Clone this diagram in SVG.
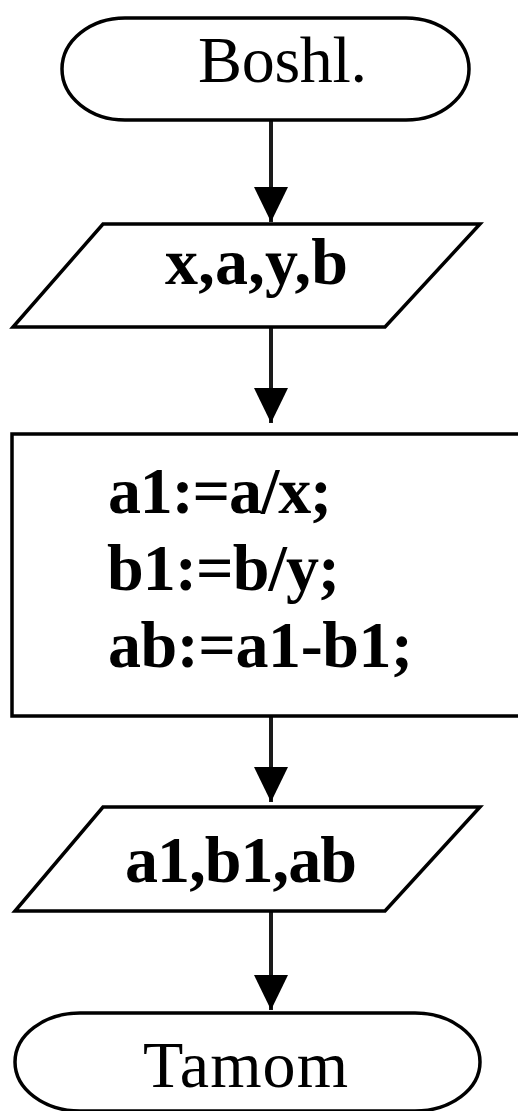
<svg xmlns="http://www.w3.org/2000/svg" width="518" height="1111" viewBox="0 0 518 1111">
<defs>
<style>
.shape{fill:#fff;stroke:#000;stroke-width:3.5}
.conn{stroke:#1a1a1a;stroke-width:4;fill:none}
.t{font-family:"Liberation Serif","Times New Roman",serif;font-size:66px;fill:#000}
.b{font-weight:bold}
</style>
<marker id="ah" markerUnits="userSpaceOnUse" markerWidth="40" markerHeight="40" refX="35" refY="0" orient="auto" viewBox="0 -20 40 40" overflow="visible">
<path d="M0,-17 L35,0 L0,17 Z" fill="#000"/>
</marker>
</defs>
<rect width="518" height="1111" fill="#fff"/>
<g id="connectors">
<line class="conn" x1="271" y1="120" x2="271" y2="222" marker-end="url(#ah)"/>
<line class="conn" x1="271" y1="327" x2="271" y2="423" marker-end="url(#ah)"/>
<line class="conn" x1="271" y1="716" x2="271" y2="802" marker-end="url(#ah)"/>
<line class="conn" x1="271" y1="911" x2="271" y2="1010" marker-end="url(#ah)"/>
</g>
<g id="start">
<rect class="shape" x="62" y="18" width="407" height="102" rx="63" ry="51"/>
<text class="t" x="198" y="82" textLength="169" lengthAdjust="spacing">Boshl.</text>
</g>
<g id="input">
<polygon class="shape" points="103,224 480,224 385,327 13,327"/>
<text class="t b" x="165" y="284" textLength="183" lengthAdjust="spacing">x,a,y,b</text>
</g>
<g id="process">
<rect class="shape" x="12" y="434" width="530" height="282"/>
<text class="t b" x="108" y="513" textLength="224" lengthAdjust="spacing">a1:=a/x;</text>
<text class="t b" x="107" y="590" textLength="233" lengthAdjust="spacing">b1:=b/y;</text>
<text class="t b" x="108" y="667" textLength="305" lengthAdjust="spacing">ab:=a1-b1;</text>
</g>
<g id="output">
<polygon class="shape" points="103,807 480,807 385,911 15,911"/>
<text class="t b" x="125" y="882" textLength="232" lengthAdjust="spacing">a1,b1,ab</text>
</g>
<g id="end">
<rect class="shape" x="15" y="1013" width="465" height="98" rx="65" ry="49"/>
<text class="t" x="143" y="1087" textLength="205" lengthAdjust="spacing">Tamom</text>
</g>
</svg>
